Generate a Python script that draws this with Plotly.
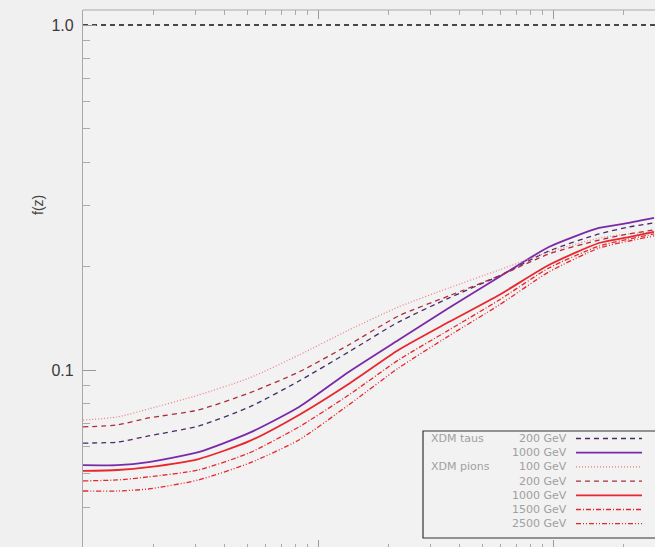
import plotly.graph_objects as go

# redshift grid (x) and f(z) curves
z = [10, 14, 19, 31, 51, 83, 135, 220, 360, 590, 960, 1570, 2100, 2690]

tau_200 = [0.0614, 0.0618, 0.0644, 0.0688, 0.0781, 0.0929, 0.1128, 0.1377, 0.1616, 0.1874, 0.2213, 0.2479, 0.2597, 0.2668]
tau_1000 = [0.0530, 0.0530, 0.0541, 0.0578, 0.0657, 0.0781, 0.0987, 0.1222, 0.1513, 0.1860, 0.2272, 0.2580, 0.2668, 0.2758]
pion_100 = [0.0716, 0.0731, 0.0771, 0.0846, 0.0948, 0.1105, 0.1305, 0.1523, 0.1729, 0.1950, 0.2198, 0.2413, 0.2479, 0.2512]
pion_200 = [0.0684, 0.0693, 0.0726, 0.0766, 0.0858, 0.0987, 0.1182, 0.1434, 0.1639, 0.1874, 0.2169, 0.2381, 0.2479, 0.2546]
pion_1000 = [0.0510, 0.0513, 0.0523, 0.0552, 0.0622, 0.0741, 0.0911, 0.1143, 0.1377, 0.1650, 0.2015, 0.2334, 0.2429, 0.2512]
pion_1500 = [0.0477, 0.0480, 0.0490, 0.0513, 0.0575, 0.0684, 0.0846, 0.1069, 0.1305, 0.1595, 0.1975, 0.2288, 0.2397, 0.2479]
pion_2500 = [0.0446, 0.0446, 0.0452, 0.0480, 0.0537, 0.0627, 0.0792, 0.1013, 0.1255, 0.1543, 0.1924, 0.2257, 0.2365, 0.2446]

ref_z = [10, 2720]
ref_f = [1.0, 1.0]

group_labels = ["XDM taus", "", "XDM pions", "", "", "", ""]
mass_labels = ["200 GeV", "1000 GeV", "100 GeV", "200 GeV", "1000 GeV", "1500 GeV", "2500 GeV"]
series = [tau_200, tau_1000, pion_100, pion_200, pion_1000, pion_1500, pion_2500]

PURPLE = "#7a2aa8"
RED = "#e8262e"
styles = [
    dict(color="#4a2a6a", width=1.3, dash="5px,4px"),
    dict(color=PURPLE, width=1.8, dash="solid"),
    dict(color="#f07a7a", width=1.2, dash="1px,2px"),
    dict(color="#b02a3a", width=1.3, dash="5px,4px"),
    dict(color=RED, width=1.8, dash="solid"),
    dict(color=RED, width=1.3, dash="5px,2px,1px,2px"),
    dict(color=RED, width=1.3, dash="5px,2px,1px,2px,1px,2px"),
]

W, H = 655, 549
L, R, T, B = 83, 0, 10, 0
PW, PH = W - L - R, H - T - B


def px(xp):
    return (xp - L) / PW


def py(yp):
    return (H - B - yp) / PH


fig = go.Figure()
fig.add_trace(go.Scatter(x=ref_z, y=ref_f, mode="lines",
                         line=dict(color="#111111", width=1.6, dash="5px,4px"),
                         showlegend=False, hoverinfo="skip"))
for ys, st in zip(series, styles):
    fig.add_trace(go.Scatter(x=z, y=ys, mode="lines", line=dict(shape="spline", smoothing=0.6, **st),
                             showlegend=False))

shapes = []
annotations = []
# top frame line
shapes.append(dict(type="line", xref="paper", yref="paper", x0=0, x1=1, y0=1, y1=1,
                   line=dict(color="#a8a8a8", width=1.2)))
# legend box
box_top, box_bot = 431, 538
shapes.append(dict(type="rect", xref="paper", yref="paper", x0=px(423), x1=px(668),
                   y0=py(box_bot), y1=py(box_top), fillcolor="#f2f2f2",
                   line=dict(color="#333333", width=1.2), layer="above"))
row0, step = 438.5, 14.2
FONT_LEG = dict(family="DejaVu Sans", size=11, color="#a0a0a0")
for i, (g, m, st) in enumerate(zip(group_labels, mass_labels, styles)):
    yy = row0 + i * step
    if g:
        annotations.append(dict(xref="paper", yref="paper", x=px(429), y=py(yy), text=g,
                                showarrow=False, xanchor="left", yanchor="middle", font=FONT_LEG))
    annotations.append(dict(xref="paper", yref="paper", x=px(569), y=py(yy), text=m,
                            showarrow=False, xanchor="right", yanchor="middle", font=FONT_LEG))
    shapes.append(dict(type="line", xref="paper", yref="paper", x0=px(576), x1=px(642),
                       y0=py(yy), y1=py(yy), layer="above",
                       line=dict(color=st["color"], width=st["width"], dash=st["dash"])))

annotations.append(dict(xref="paper", yref="paper", x=px(38), y=py(205), text="f(z)",
                        showarrow=False, textangle=-90, xanchor="center", yanchor="middle",
                        font=dict(family="Liberation Sans", size=14, color="#444444")))

y_minor = [0.04, 0.05, 0.06, 0.07, 0.08, 0.09, 0.2, 0.3, 0.4, 0.5, 0.6, 0.7, 0.8, 0.9]
x_minor = [20, 30, 40, 50, 60, 70, 80, 90, 200, 300, 400, 500, 600, 700, 800, 900, 2000]

fig.update_layout(
    width=W, height=H,
    margin=dict(l=L, r=R, t=T, b=B),
    paper_bgcolor="#f0f0f0", plot_bgcolor="#f2f2f2",
    shapes=shapes, annotations=annotations,
    showlegend=False,
)
fig.update_xaxes(type="log", range=[1, 1 + PW / 235.0], showgrid=False, zeroline=False,
                 showline=False, showticklabels=False, ticks="inside", ticklen=9,
                 tickcolor="#999999", tickwidth=1, mirror="allticks",
                 tickvals=[100, 1000],
                 minor=dict(tickvals=x_minor, ticks="inside", ticklen=5, tickcolor="#aaaaaa"))
fig.update_yaxes(type="log", range=[-(H - B - 25) / 345.0, (25 - T) / 345.0], showgrid=False,
                 zeroline=False, showline=True, linecolor="#a8a8a8", linewidth=1.2,
                 ticks="inside", ticklen=13, tickcolor="#999999", tickwidth=1,
                 tickvals=[0.1, 1.0], ticktext=["0.1", "1.0"], ticklabelstandoff=5,
                 tickfont=dict(family="Liberation Sans", size=16, color="#3a3a3a"),
                 minor=dict(tickvals=y_minor, ticks="inside", ticklen=7, tickcolor="#aaaaaa"))

fig.write_html("out.html", config={"displayModeBar": False},
               post_script="document.body.style.margin='0px';document.body.style.overflow='hidden';")
